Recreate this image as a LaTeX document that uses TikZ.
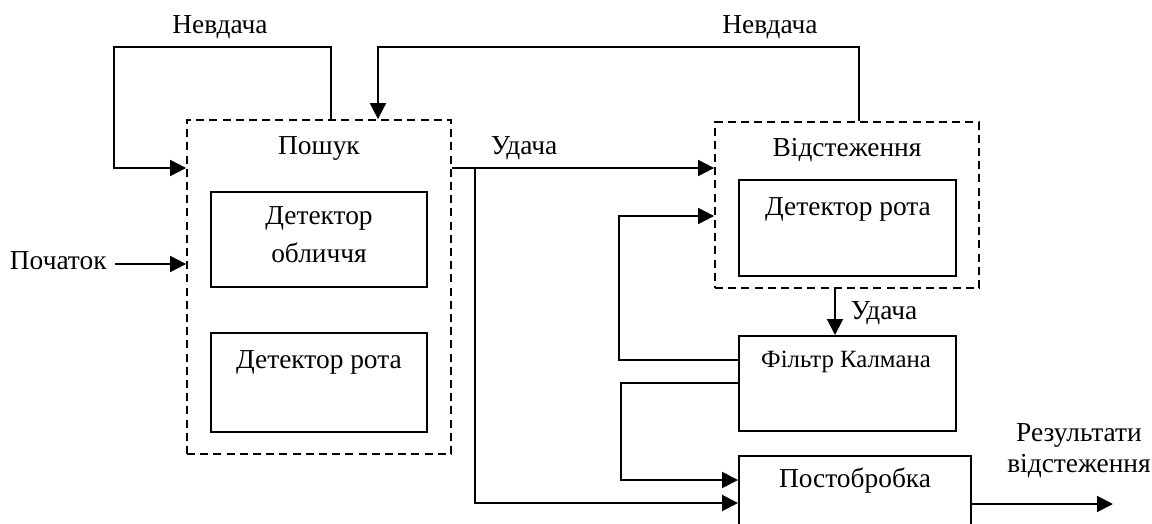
\documentclass[tikz,border=0pt]{standalone}
\usepackage{fontspec}
\setmainfont{Liberation Serif}
\usetikzlibrary{arrows.meta,fit}
\begin{document}
\begin{tikzpicture}[x=0.5pt,y=-0.5pt,
  every node/.style={font=\fontsize{13.7pt}{16pt}\selectfont, inner sep=0pt},
  dashbox/.style={draw, line width=0.9pt, dash pattern=on 4pt off 2.6pt, fit={#1}, inner sep=0pt},
  solidbox/.style={draw, line width=1pt, fit={#1}, inner sep=0pt},
  lbl/.style={align=center},
  arr/.style={line width=1pt, -{Triangle[length=8pt,width=8pt]}},
  ln/.style={line width=1pt}]
\useasboundingbox (0,0) rectangle (1152,524);
\clip (0,0) rectangle (1152,524);
% boxes
\node (search) [dashbox={(187,120) (451,454)}] {};
\node (face)   [solidbox={(211,192) (427,287)}] {};
\node (mouthA) [solidbox={(211,333) (427,432)}] {};
\node (track)  [dashbox={(715,122) (979,288)}] {};
\node (mouthB) [solidbox={(739,180) (956,276)}] {};
\node (kalman) [solidbox={(739,336) (956,431)}] {};
\node (post)   [solidbox={(739,456) (971,560)}] {};
% texts
\node (tsearch) at (319,148) {Пошук};
\node (tface) [lbl, font=\fontsize{13.7pt}{19pt}\selectfont] at (319,235) {Детектор\\обличчя};
\node (tmouthA) at (319,362) {Детектор рота};
\node (ttrack) at (847,150) {Відстеження};
\node (tmouthB) at (848,209) {Детектор рота};
\node (tkalman) [font=\fontsize{12.4pt}{14pt}\selectfont] at (846,362) {Фільтр Калмана};
\node (tpost) at (855,481) {Постобробка};
\node (start) [anchor=east] at (107,261) {Початок};
\node (fail1) at (220,27) {Невдача};
\node (fail2) at (770,27) {Невдача};
\node (succ1) at (524,148) {Удача};
\node (succ2) at (884,313) {Удача};
\node (result) [lbl, font=\fontsize{13.7pt}{15.5pt}\selectfont] at (1079,451) {Результати\\відстеження};
% coordinates
\coordinate (nl) at (331,47);
\coordinate (lc) at (114,168);
\coordinate (nr) at (859,47);
\coordinate (nd) at (378,47);
\coordinate (uy) at (0,168);
\coordinate (br) at (475,168);
\coordinate (py2) at (0,503);
\coordinate (dx) at (835,0);
\coordinate (k1) at (619,360);
\coordinate (k1t) at (619,216);
\coordinate (k2) at (621,383);
\coordinate (k2b) at (621,480);
\coordinate (out) at (1113,504);
% connectors
\draw[arr] (start.east) ++(8,3) coordinate (s0) -- (s0 -| search.west);
\draw[arr] (search.north -| nl) -- (nl) -| (lc) -- (lc -| search.west);
\draw[arr] (track.north -| nr) -- (nr) -- (nd) -- (nd |- search.north);
\draw[arr] (search.east |- uy) -- (track.west |- uy);
\draw[arr] (br) -- (br |- py2) -- (post.west |- py2);
\draw[arr] (track.south -| dx) -- (kalman.north -| dx);
\draw[arr] (kalman.west |- k1) -- (k1) -- (k1t) -- (track.west |- k1t);
\draw[arr] (kalman.west |- k2) -- (k2) -- (k2b) -- (post.west |- k2b);
\draw[arr] (post.east |- out) -- (out);
\end{tikzpicture}
\end{document}
